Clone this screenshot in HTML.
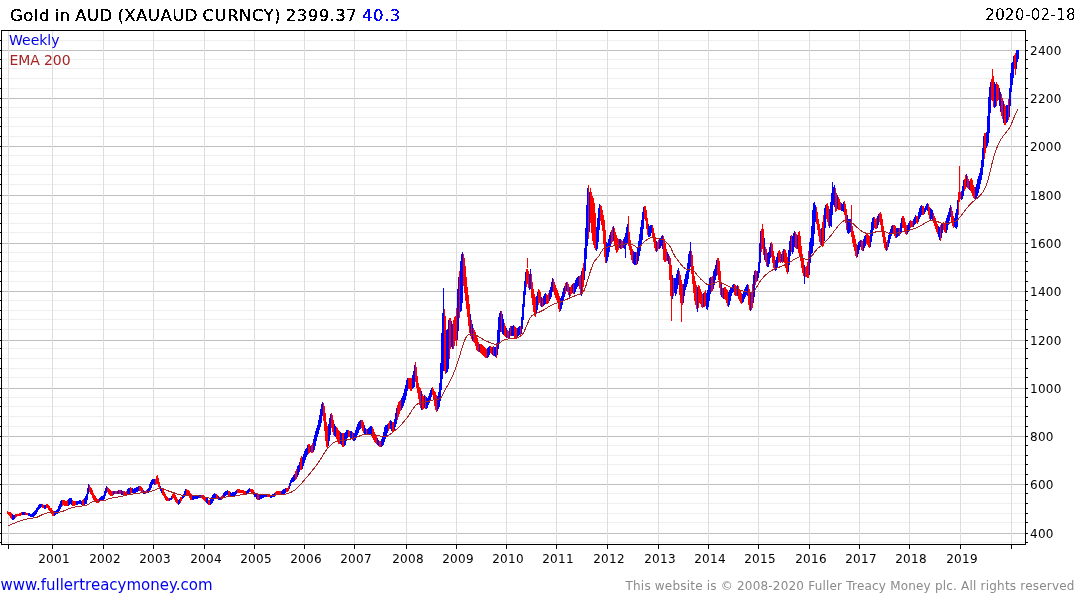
<!DOCTYPE html><html><head><meta charset="utf-8"><title>Gold in AUD</title><style>html,body{margin:0;padding:0;background:#fff;width:1075px;height:600px;overflow:hidden}svg{display:block}text{font-family:"DejaVu Sans","Liberation Sans",sans-serif}</style></head><body>
<svg width="1075" height="600" viewBox="0 0 1075 600">
<g shape-rendering="crispEdges">
<path stroke="#efefef" stroke-width="1" d="M2 542.5H1025M2 522.5H1025M2 513.5H1025M2 503.5H1025M2 493.5H1025M2 474.5H1025M2 464.5H1025M2 455.5H1025M2 445.5H1025M2 426.5H1025M2 416.5H1025M2 406.5H1025M2 397.5H1025M2 377.5H1025M2 368.5H1025M2 358.5H1025M2 348.5H1025M2 329.5H1025M2 319.5H1025M2 310.5H1025M2 300.5H1025M2 281.5H1025M2 271.5H1025M2 261.5H1025M2 252.5H1025M2 232.5H1025M2 223.5H1025M2 213.5H1025M2 203.5H1025M2 184.5H1025M2 174.5H1025M2 165.5H1025M2 155.5H1025M2 136.5H1025M2 126.5H1025M2 117.5H1025M2 107.5H1025M2 88.5H1025M2 78.5H1025M2 68.5H1025M2 59.5H1025M2 40.5H1025"/>
<path stroke="#bebebe" stroke-width="1" d="M2 533.5H1025M2 484.5H1025M2 436.5H1025M2 388.5H1025M2 340.5H1025M2 291.5H1025M2 243.5H1025M2 195.5H1025M2 146.5H1025M2 98.5H1025M2 50.5H1025"/>
<path stroke="#dddddd" stroke-width="1" d="M8.5 31V544M52.5 31V544M103.5 31V544M153.5 31V544M204.5 31V544M254.5 31V544M304.5 31V544M354.5 31V544M406.5 31V544M456.5 31V544M506.5 31V544M556.5 31V544M607.5 31V544M658.5 31V544M708.5 31V544M758.5 31V544M809.5 31V544M859.5 31V544M909.5 31V544M960.5 31V544M1011.5 31V544"/>
<path fill="#ff0000" d="M7 511h1v3h-1zM8 512h1v3h-1zM9 512h1v4h-1zM10 512h1v6h-1zM11 513h1v6h-1zM15 514h1v4h-1zM16 514h1v3h-1zM17 514h1v2h-1zM18 514h1v2h-1zM19 513h1v3h-1zM20 513h1v3h-1zM21 512h1v3h-1zM25 512h1v3h-1zM26 513h1v2h-1zM27 513h1v2h-1zM42 504h1v4h-1zM43 505h1v3h-1zM46 504h1v4h-1zM47 504h1v4h-1zM48 505h1v5h-1zM49 506h1v5h-1zM50 508h1v4h-1zM51 508h1v6h-1zM52 510h1v6h-1zM53 511h1v5h-1zM62 500h1v6h-1zM63 500h1v5h-1zM64 500h1v6h-1zM65 501h1v5h-1zM66 501h1v5h-1zM67 500h1v6h-1zM72 500h1v6h-1zM73 501h1v5h-1zM74 501h1v5h-1zM75 501h1v4h-1zM82 500h1v5h-1zM83 499h1v6h-1zM89 485h1v7h-1zM90 487h1v7h-1zM91 488h1v7h-1zM92 490h1v8h-1zM93 493h1v7h-1zM94 495h1v6h-1zM95 496h1v6h-1zM96 498h1v5h-1zM97 499h1v4h-1zM98 499h1v4h-1zM107 487h1v5h-1zM108 488h1v6h-1zM109 489h1v6h-1zM110 490h1v6h-1zM111 491h1v5h-1zM112 491h1v5h-1zM115 491h1v3h-1zM116 491h1v3h-1zM119 490h1v4h-1zM120 490h1v4h-1zM123 491h1v4h-1zM124 491h1v4h-1zM125 492h1v3h-1zM126 491h1v4h-1zM130 487h1v7h-1zM131 488h1v5h-1zM139 486h1v5h-1zM140 486h1v5h-1zM141 487h1v5h-1zM142 488h1v5h-1zM145 491h1v3h-1zM146 490h1v3h-1zM155 479h1v6h-1zM156 476h1v8h-1zM157 475h1v9h-1zM158 478h1v9h-1zM159 482h1v7h-1zM162 489h1v6h-1zM163 490h1v6h-1zM164 492h1v6h-1zM165 494h1v6h-1zM166 496h1v5h-1zM167 497h1v4h-1zM168 498h1v3h-1zM172 494h1v5h-1zM173 493h1v5h-1zM174 494h1v6h-1zM175 495h1v7h-1zM176 497h1v6h-1zM177 499h1v5h-1zM180 497h1v6h-1zM181 497h1v4h-1zM186 489h1v6h-1zM187 490h1v5h-1zM188 490h1v6h-1zM189 491h1v7h-1zM190 493h1v7h-1zM191 494h1v6h-1zM201 495h1v3h-1zM202 495h1v4h-1zM203 495h1v5h-1zM204 496h1v5h-1zM205 497h1v5h-1zM208 500h1v5h-1zM209 500h1v5h-1zM216 494h1v4h-1zM217 495h1v4h-1zM221 496h1v4h-1zM222 495h1v4h-1zM228 491h1v5h-1zM229 491h1v6h-1zM237 489h1v4h-1zM238 489h1v4h-1zM239 489h1v4h-1zM240 490h1v3h-1zM241 490h1v3h-1zM242 490h1v3h-1zM243 490h1v4h-1zM244 491h1v3h-1zM245 491h1v3h-1zM250 489h1v3h-1zM251 489h1v4h-1zM252 489h1v5h-1zM253 490h1v5h-1zM257 494h1v6h-1zM258 495h1v5h-1zM267 494h1v3h-1zM268 494h1v3h-1zM269 494h1v3h-1zM275 492h1v4h-1zM276 491h1v4h-1zM277 491h1v4h-1zM278 491h1v4h-1zM279 491h1v4h-1zM280 491h1v4h-1zM286 488h1v4h-1zM287 488h1v4h-1zM288 486h1v5h-1zM295 471h1v9h-1zM296 469h1v10h-1zM300 458h1v12h-1zM301 456h1v14h-1zM308 444h1v10h-1zM309 444h1v9h-1zM311 445h1v8h-1zM312 443h1v10h-1zM323 403h1v18h-1zM324 406h1v25h-1zM325 413h1v28h-1zM326 422h1v25h-1zM327 426h1v22h-1zM331 413h1v15h-1zM332 415h1v17h-1zM333 420h1v15h-1zM336 427h1v12h-1zM337 428h1v14h-1zM338 430h1v14h-1zM339 431h1v13h-1zM342 433h1v14h-1zM343 433h1v14h-1zM348 430h1v7h-1zM349 431h1v6h-1zM352 432h1v8h-1zM361 420h1v8h-1zM362 420h1v11h-1zM363 422h1v11h-1zM366 429h1v5h-1zM372 427h1v11h-1zM373 429h1v11h-1zM374 432h1v10h-1zM375 435h1v8h-1zM376 436h1v8h-1zM379 441h1v6h-1zM380 441h1v6h-1zM388 423h1v8h-1zM389 421h1v8h-1zM392 422h1v11h-1zM393 422h1v10h-1zM397 405h1v15h-1zM398 402h1v15h-1zM399 401h1v13h-1zM400 400h1v11h-1zM408 378h1v11h-1zM409 378h1v11h-1zM410 378h1v13h-1zM411 378h1v13h-1zM415 362h1v20h-1zM416 367h1v21h-1zM417 376h1v17h-1zM418 383h1v16h-1zM419 387h1v18h-1zM420 388h1v20h-1zM422 394h1v16h-1zM423 396h1v13h-1zM425 396h1v13h-1zM432 387h1v8h-1zM433 389h1v11h-1zM434 391h1v15h-1zM435 392h1v18h-1zM436 395h1v17h-1zM444 309h1v62h-1zM445 316h1v58h-1zM449 318h1v41h-1zM450 318h1v31h-1zM453 320h1v29h-1zM454 317h1v29h-1zM455 316h1v25h-1zM456 308h1v38h-1zM459 271h1v47h-1zM463 254h1v32h-1zM464 258h1v35h-1zM465 266h1v35h-1zM466 277h1v32h-1zM467 287h1v30h-1zM468 295h1v31h-1zM469 304h1v29h-1zM471 320h1v19h-1zM473 328h1v14h-1zM474 330h1v13h-1zM475 332h1v14h-1zM476 335h1v15h-1zM477 338h1v13h-1zM478 342h1v10h-1zM480 344h1v9h-1zM481 344h1v10h-1zM482 345h1v10h-1zM483 346h1v10h-1zM484 347h1v10h-1zM485 348h1v10h-1zM486 349h1v9h-1zM490 346h1v7h-1zM491 347h1v7h-1zM493 346h1v10h-1zM496 343h1v15h-1zM501 311h1v21h-1zM504 323h1v13h-1zM505 326h1v11h-1zM507 330h1v8h-1zM508 331h1v8h-1zM510 326h1v10h-1zM514 326h1v12h-1zM515 327h1v12h-1zM516 328h1v11h-1zM520 326h1v10h-1zM526 269h1v18h-1zM527 269h1v15h-1zM528 271h1v17h-1zM531 274h1v24h-1zM532 282h1v23h-1zM533 289h1v23h-1zM534 294h1v22h-1zM535 297h1v20h-1zM538 289h1v16h-1zM539 290h1v13h-1zM540 292h1v14h-1zM542 298h1v9h-1zM546 294h1v10h-1zM547 295h1v9h-1zM548 293h1v10h-1zM553 279h1v13h-1zM554 282h1v13h-1zM555 285h1v13h-1zM556 288h1v12h-1zM557 290h1v13h-1zM558 293h1v16h-1zM559 296h1v16h-1zM565 283h1v11h-1zM567 282h1v10h-1zM568 284h1v11h-1zM570 287h1v9h-1zM571 285h1v9h-1zM573 283h1v11h-1zM579 276h1v13h-1zM580 275h1v20h-1zM582 268h1v25h-1zM583 263h1v24h-1zM588 185h1v54h-1zM590 188h1v35h-1zM591 192h1v41h-1zM592 196h1v45h-1zM593 198h1v47h-1zM594 203h1v45h-1zM595 213h1v37h-1zM600 205h1v16h-1zM601 206h1v19h-1zM602 210h1v21h-1zM603 215h1v29h-1zM604 220h1v37h-1zM605 230h1v33h-1zM611 230h1v14h-1zM612 227h1v15h-1zM614 228h1v18h-1zM615 232h1v18h-1zM616 235h1v18h-1zM617 238h1v14h-1zM618 239h1v11h-1zM621 240h1v9h-1zM622 241h1v7h-1zM628 226h1v20h-1zM629 232h1v18h-1zM630 240h1v15h-1zM631 246h1v14h-1zM632 249h1v14h-1zM636 252h1v13h-1zM644 206h1v13h-1zM645 206h1v15h-1zM646 210h1v19h-1zM647 218h1v17h-1zM652 225h1v12h-1zM653 228h1v14h-1zM654 233h1v15h-1zM655 238h1v13h-1zM657 242h1v9h-1zM658 240h1v9h-1zM663 236h1v24h-1zM664 239h1v23h-1zM665 243h1v19h-1zM666 249h1v12h-1zM669 256h1v24h-1zM670 258h1v38h-1zM671 265h1v34h-1zM673 278h1v18h-1zM679 271h1v24h-1zM680 275h1v28h-1zM681 280h1v25h-1zM682 284h1v21h-1zM691 251h1v23h-1zM692 255h1v29h-1zM693 266h1v27h-1zM694 276h1v25h-1zM695 281h1v24h-1zM696 285h1v24h-1zM698 285h1v23h-1zM699 286h1v17h-1zM700 289h1v15h-1zM701 292h1v15h-1zM702 294h1v14h-1zM704 292h1v15h-1zM705 290h1v16h-1zM711 277h1v15h-1zM712 276h1v15h-1zM717 258h1v17h-1zM718 258h1v22h-1zM719 261h1v27h-1zM720 271h1v24h-1zM722 288h1v10h-1zM724 287h1v12h-1zM725 287h1v13h-1zM726 289h1v14h-1zM727 290h1v16h-1zM734 284h1v11h-1zM735 285h1v11h-1zM736 286h1v10h-1zM738 286h1v13h-1zM739 289h1v12h-1zM740 291h1v12h-1zM741 293h1v11h-1zM748 285h1v20h-1zM749 289h1v21h-1zM751 292h1v18h-1zM752 284h1v24h-1zM755 270h1v15h-1zM756 271h1v11h-1zM761 229h1v23h-1zM762 229h1v20h-1zM763 229h1v26h-1zM765 247h1v15h-1zM766 249h1v17h-1zM771 242h1v15h-1zM772 244h1v19h-1zM773 251h1v17h-1zM774 256h1v14h-1zM778 251h1v12h-1zM779 250h1v12h-1zM780 252h1v11h-1zM782 251h1v12h-1zM784 249h1v14h-1zM785 250h1v18h-1zM786 253h1v19h-1zM787 257h1v17h-1zM791 235h1v17h-1zM795 232h1v16h-1zM796 234h1v15h-1zM798 232h1v21h-1zM799 231h1v26h-1zM800 236h1v25h-1zM801 246h1v22h-1zM802 254h1v19h-1zM803 259h1v17h-1zM805 267h1v10h-1zM806 266h1v11h-1zM807 262h1v16h-1zM808 251h1v27h-1zM816 207h1v17h-1zM817 212h1v18h-1zM818 219h1v17h-1zM819 224h1v18h-1zM820 229h1v16h-1zM822 222h1v25h-1zM823 215h1v31h-1zM826 204h1v15h-1zM827 203h1v19h-1zM828 206h1v20h-1zM835 188h1v24h-1zM836 193h1v18h-1zM838 197h1v13h-1zM839 199h1v11h-1zM840 202h1v8h-1zM844 201h1v14h-1zM845 204h1v19h-1zM846 209h1v21h-1zM851 221h1v16h-1zM852 226h1v17h-1zM853 231h1v16h-1zM854 235h1v16h-1zM855 239h1v17h-1zM856 244h1v14h-1zM861 240h1v10h-1zM862 241h1v10h-1zM866 234h1v10h-1zM867 234h1v11h-1zM868 235h1v12h-1zM869 236h1v12h-1zM874 217h1v11h-1zM875 219h1v10h-1zM876 218h1v11h-1zM879 213h1v9h-1zM880 212h1v13h-1zM881 214h1v18h-1zM882 219h1v18h-1zM883 226h1v17h-1zM884 232h1v16h-1zM885 237h1v13h-1zM887 240h1v10h-1zM893 225h1v9h-1zM894 225h1v11h-1zM895 226h1v12h-1zM899 228h1v8h-1zM902 216h1v12h-1zM903 216h1v12h-1zM904 218h1v13h-1zM905 222h1v12h-1zM906 225h1v10h-1zM910 220h1v8h-1zM911 221h1v6h-1zM912 221h1v6h-1zM916 216h1v7h-1zM917 216h1v8h-1zM922 206h1v9h-1zM923 206h1v9h-1zM928 204h1v11h-1zM929 207h1v12h-1zM933 213h1v10h-1zM934 216h1v10h-1zM935 218h1v11h-1zM936 221h1v11h-1zM937 224h1v10h-1zM940 225h1v16h-1zM943 222h1v8h-1zM944 223h1v9h-1zM945 221h1v12h-1zM951 207h1v16h-1zM952 211h1v15h-1zM953 216h1v12h-1zM958 192h1v23h-1zM959 191h1v11h-1zM960 192h1v7h-1zM964 179h1v12h-1zM965 175h1v14h-1zM967 176h1v12h-1zM968 179h1v10h-1zM970 179h1v12h-1zM971 178h1v15h-1zM972 180h1v16h-1zM973 185h1v13h-1zM974 187h1v12h-1zM984 133h1v26h-1zM985 133h1v20h-1zM991 79h1v21h-1zM992 76h1v25h-1zM993 76h1v31h-1zM996 82h1v24h-1zM997 84h1v17h-1zM998 85h1v15h-1zM1001 94h1v22h-1zM1002 98h1v21h-1zM1004 104h1v21h-1zM1005 106h1v19h-1zM1008 99h1v21h-1zM1014 55h1v14h-1zM1015 53h1v22h-1zM527 258h1v10h-1zM628 216h1v10h-1zM671 298h1v23h-1zM681 303h1v19h-1zM762 224h1v5h-1zM851 205h1v17h-1zM959 166h1v25h-1zM992 69h1v7h-1z"/>
<path fill="#0000ff" d="M12 514h1v6h-1zM13 515h1v5h-1zM14 515h1v4h-1zM22 512h1v3h-1zM23 512h1v3h-1zM24 512h1v3h-1zM28 513h1v3h-1zM29 513h1v3h-1zM30 514h1v3h-1zM31 514h1v3h-1zM32 513h1v4h-1zM33 512h1v5h-1zM34 511h1v5h-1zM35 510h1v5h-1zM36 508h1v6h-1zM37 507h1v5h-1zM38 505h1v5h-1zM39 504h1v5h-1zM40 504h1v4h-1zM41 504h1v3h-1zM44 505h1v4h-1zM45 505h1v4h-1zM54 511h1v5h-1zM55 511h1v4h-1zM56 510h1v4h-1zM57 509h1v5h-1zM58 506h1v6h-1zM59 504h1v7h-1zM60 501h1v8h-1zM61 500h1v7h-1zM68 499h1v7h-1zM69 498h1v7h-1zM70 498h1v6h-1zM71 498h1v7h-1zM76 501h1v4h-1zM77 501h1v4h-1zM78 501h1v3h-1zM79 500h1v4h-1zM80 500h1v4h-1zM81 501h1v4h-1zM84 498h1v7h-1zM85 496h1v8h-1zM86 494h1v10h-1zM87 488h1v12h-1zM88 484h1v10h-1zM99 498h1v4h-1zM100 497h1v4h-1zM101 496h1v5h-1zM102 496h1v5h-1zM103 495h1v5h-1zM104 491h1v8h-1zM105 488h1v8h-1zM106 486h1v7h-1zM113 491h1v4h-1zM114 491h1v3h-1zM117 491h1v3h-1zM118 490h1v4h-1zM121 490h1v5h-1zM122 491h1v4h-1zM127 489h1v6h-1zM128 488h1v6h-1zM129 488h1v6h-1zM132 488h1v5h-1zM133 489h1v4h-1zM134 488h1v5h-1zM135 488h1v5h-1zM136 487h1v5h-1zM137 487h1v5h-1zM138 486h1v5h-1zM143 490h1v4h-1zM144 491h1v3h-1zM147 489h1v4h-1zM148 488h1v5h-1zM149 484h1v8h-1zM150 482h1v8h-1zM151 480h1v8h-1zM152 479h1v6h-1zM153 479h1v5h-1zM154 479h1v6h-1zM160 486h1v5h-1zM161 488h1v5h-1zM169 498h1v3h-1zM170 498h1v2h-1zM171 496h1v4h-1zM178 500h1v5h-1zM179 499h1v5h-1zM182 496h1v3h-1zM183 494h1v4h-1zM184 491h1v6h-1zM185 489h1v7h-1zM192 495h1v5h-1zM193 495h1v5h-1zM194 495h1v4h-1zM195 495h1v4h-1zM196 496h1v3h-1zM197 496h1v3h-1zM198 496h1v2h-1zM199 495h1v3h-1zM200 495h1v3h-1zM206 498h1v5h-1zM207 498h1v6h-1zM210 499h1v6h-1zM211 497h1v7h-1zM212 495h1v8h-1zM213 494h1v7h-1zM214 493h1v5h-1zM215 494h1v4h-1zM218 496h1v4h-1zM219 497h1v3h-1zM220 497h1v3h-1zM223 493h1v5h-1zM224 492h1v5h-1zM225 491h1v5h-1zM226 491h1v4h-1zM227 490h1v5h-1zM230 492h1v5h-1zM231 493h1v4h-1zM232 492h1v5h-1zM233 492h1v4h-1zM234 492h1v4h-1zM235 491h1v4h-1zM236 490h1v4h-1zM246 491h1v3h-1zM247 490h1v4h-1zM248 489h1v4h-1zM249 488h1v4h-1zM254 492h1v5h-1zM255 493h1v4h-1zM256 494h1v5h-1zM259 495h1v5h-1zM260 495h1v4h-1zM261 495h1v4h-1zM262 495h1v3h-1zM263 495h1v3h-1zM264 494h1v3h-1zM265 494h1v3h-1zM266 494h1v3h-1zM270 495h1v3h-1zM271 495h1v3h-1zM272 494h1v3h-1zM273 494h1v3h-1zM274 493h1v4h-1zM281 491h1v4h-1zM282 490h1v5h-1zM283 489h1v5h-1zM284 489h1v5h-1zM285 488h1v5h-1zM289 483h1v6h-1zM290 480h1v6h-1zM291 478h1v5h-1zM292 477h1v5h-1zM293 475h1v7h-1zM294 474h1v7h-1zM297 466h1v11h-1zM298 465h1v10h-1zM299 462h1v10h-1zM302 457h1v12h-1zM303 454h1v12h-1zM304 451h1v12h-1zM305 449h1v11h-1zM306 448h1v9h-1zM307 445h1v10h-1zM310 446h1v6h-1zM313 439h1v13h-1zM314 435h1v15h-1zM315 431h1v15h-1zM316 428h1v13h-1zM317 425h1v12h-1zM318 420h1v14h-1zM319 415h1v15h-1zM320 409h1v18h-1zM321 404h1v19h-1zM322 402h1v14h-1zM328 424h1v22h-1zM329 418h1v23h-1zM330 414h1v21h-1zM334 424h1v12h-1zM335 426h1v11h-1zM340 432h1v12h-1zM341 433h1v12h-1zM344 433h1v13h-1zM345 432h1v13h-1zM346 430h1v11h-1zM347 430h1v8h-1zM350 431h1v7h-1zM351 431h1v8h-1zM353 433h1v8h-1zM354 433h1v8h-1zM355 430h1v10h-1zM356 427h1v11h-1zM357 424h1v11h-1zM358 422h1v11h-1zM359 421h1v9h-1zM360 420h1v9h-1zM364 425h1v9h-1zM365 428h1v6h-1zM367 429h1v5h-1zM368 428h1v6h-1zM369 427h1v7h-1zM370 426h1v9h-1zM371 426h1v10h-1zM377 438h1v7h-1zM378 440h1v6h-1zM381 439h1v8h-1zM382 436h1v10h-1zM383 432h1v13h-1zM384 427h1v15h-1zM385 425h1v14h-1zM386 425h1v11h-1zM387 424h1v9h-1zM390 420h1v9h-1zM391 421h1v10h-1zM394 419h1v11h-1zM395 413h1v14h-1zM396 408h1v16h-1zM401 398h1v12h-1zM402 396h1v12h-1zM403 393h1v13h-1zM404 389h1v14h-1zM405 385h1v15h-1zM406 380h1v16h-1zM407 378h1v13h-1zM412 375h1v14h-1zM413 371h1v17h-1zM414 365h1v22h-1zM421 391h1v19h-1zM424 395h1v13h-1zM426 397h1v12h-1zM427 398h1v10h-1zM428 396h1v9h-1zM429 393h1v10h-1zM430 390h1v10h-1zM431 388h1v9h-1zM437 396h1v15h-1zM438 392h1v17h-1zM439 383h1v24h-1zM440 363h1v38h-1zM441 333h1v57h-1zM442 313h1v66h-1zM443 309h1v62h-1zM446 330h1v43h-1zM447 329h1v43h-1zM448 320h1v49h-1zM451 321h1v26h-1zM452 324h1v25h-1zM457 289h1v51h-1zM458 277h1v54h-1zM460 261h1v51h-1zM461 254h1v57h-1zM462 252h1v51h-1zM470 314h1v22h-1zM472 324h1v17h-1zM479 344h1v8h-1zM487 348h1v10h-1zM488 347h1v10h-1zM489 346h1v9h-1zM492 347h1v8h-1zM494 347h1v9h-1zM495 347h1v10h-1zM497 330h1v25h-1zM498 317h1v32h-1zM499 313h1v29h-1zM500 311h1v21h-1zM502 314h1v20h-1zM503 319h1v16h-1zM506 328h1v10h-1zM509 328h1v10h-1zM511 326h1v10h-1zM512 326h1v10h-1zM513 325h1v11h-1zM517 328h1v10h-1zM518 327h1v9h-1zM519 326h1v9h-1zM521 317h1v17h-1zM522 304h1v25h-1zM523 291h1v29h-1zM524 281h1v26h-1zM525 272h1v23h-1zM529 274h1v16h-1zM530 269h1v20h-1zM536 296h1v18h-1zM537 292h1v18h-1zM541 297h1v10h-1zM543 296h1v10h-1zM544 294h1v11h-1zM545 293h1v11h-1zM549 290h1v11h-1zM550 287h1v12h-1zM551 282h1v15h-1zM552 278h1v14h-1zM560 298h1v13h-1zM561 296h1v13h-1zM562 292h1v13h-1zM563 288h1v13h-1zM564 286h1v11h-1zM566 282h1v9h-1zM569 287h1v11h-1zM572 284h1v9h-1zM574 283h1v11h-1zM575 280h1v12h-1zM576 278h1v11h-1zM577 277h1v10h-1zM578 276h1v10h-1zM581 271h1v25h-1zM584 248h1v32h-1zM585 228h1v43h-1zM586 205h1v54h-1zM587 188h1v58h-1zM589 192h1v40h-1zM596 227h1v24h-1zM597 218h1v31h-1zM598 208h1v34h-1zM599 204h1v26h-1zM606 242h1v21h-1zM607 243h1v18h-1zM608 239h1v18h-1zM609 235h1v17h-1zM610 232h1v14h-1zM613 226h1v15h-1zM619 239h1v9h-1zM620 239h1v10h-1zM623 239h1v9h-1zM624 237h1v12h-1zM625 233h1v14h-1zM626 227h1v18h-1zM627 224h1v19h-1zM633 251h1v13h-1zM634 252h1v13h-1zM635 252h1v13h-1zM637 247h1v17h-1zM638 241h1v20h-1zM639 234h1v22h-1zM640 227h1v24h-1zM641 220h1v26h-1zM642 212h1v28h-1zM643 207h1v22h-1zM648 224h1v13h-1zM649 226h1v11h-1zM650 225h1v11h-1zM651 225h1v8h-1zM656 241h1v11h-1zM659 239h1v10h-1zM660 238h1v10h-1zM661 236h1v10h-1zM662 235h1v14h-1zM667 252h1v9h-1zM668 254h1v10h-1zM672 275h1v24h-1zM674 278h1v15h-1zM675 278h1v18h-1zM676 274h1v20h-1zM677 270h1v19h-1zM678 268h1v17h-1zM683 284h1v19h-1zM684 279h1v17h-1zM685 274h1v16h-1zM686 271h1v16h-1zM687 263h1v21h-1zM688 254h1v25h-1zM689 251h1v21h-1zM690 250h1v17h-1zM697 287h1v25h-1zM703 293h1v14h-1zM706 293h1v16h-1zM707 290h1v20h-1zM708 284h1v23h-1zM709 278h1v23h-1zM710 277h1v17h-1zM713 271h1v18h-1zM714 269h1v16h-1zM715 265h1v15h-1zM716 260h1v16h-1zM721 283h1v14h-1zM723 288h1v11h-1zM728 292h1v15h-1zM729 290h1v15h-1zM730 288h1v13h-1zM731 287h1v9h-1zM732 285h1v8h-1zM733 284h1v8h-1zM737 285h1v11h-1zM742 294h1v9h-1zM743 292h1v10h-1zM744 289h1v10h-1zM745 287h1v10h-1zM746 285h1v10h-1zM747 284h1v12h-1zM750 293h1v18h-1zM753 275h1v28h-1zM754 271h1v26h-1zM757 271h1v10h-1zM758 262h1v16h-1zM759 243h1v30h-1zM760 231h1v32h-1zM764 238h1v22h-1zM767 253h1v14h-1zM768 252h1v15h-1zM769 247h1v17h-1zM770 243h1v15h-1zM775 260h1v11h-1zM776 257h1v13h-1zM777 253h1v14h-1zM781 254h1v8h-1zM783 249h1v13h-1zM788 250h1v22h-1zM789 241h1v24h-1zM790 236h1v20h-1zM792 236h1v18h-1zM793 233h1v19h-1zM794 231h1v16h-1zM797 235h1v14h-1zM804 265h1v12h-1zM809 242h1v33h-1zM810 238h1v25h-1zM811 226h1v28h-1zM812 210h1v43h-1zM813 203h1v43h-1zM814 202h1v32h-1zM815 205h1v17h-1zM821 228h1v18h-1zM824 208h1v33h-1zM825 205h1v23h-1zM829 209h1v19h-1zM830 202h1v24h-1zM831 193h1v34h-1zM832 189h1v26h-1zM833 187h1v18h-1zM834 185h1v22h-1zM837 195h1v14h-1zM841 203h1v8h-1zM842 204h1v7h-1zM843 202h1v10h-1zM847 215h1v18h-1zM848 219h1v15h-1zM849 219h1v14h-1zM850 219h1v13h-1zM857 245h1v12h-1zM858 242h1v12h-1zM859 241h1v9h-1zM860 240h1v7h-1zM863 239h1v12h-1zM864 236h1v12h-1zM865 235h1v11h-1zM870 230h1v17h-1zM871 222h1v20h-1zM872 218h1v18h-1zM873 217h1v13h-1zM877 216h1v12h-1zM878 214h1v11h-1zM886 242h1v9h-1zM888 235h1v12h-1zM889 232h1v11h-1zM890 229h1v10h-1zM891 226h1v10h-1zM892 225h1v9h-1zM896 228h1v10h-1zM897 228h1v9h-1zM898 228h1v8h-1zM900 223h1v11h-1zM901 218h1v14h-1zM907 225h1v9h-1zM908 223h1v9h-1zM909 221h1v9h-1zM913 219h1v8h-1zM914 217h1v8h-1zM915 215h1v9h-1zM918 212h1v10h-1zM919 208h1v11h-1zM920 206h1v11h-1zM921 205h1v10h-1zM924 208h1v6h-1zM925 206h1v6h-1zM926 204h1v6h-1zM927 203h1v8h-1zM930 208h1v12h-1zM931 209h1v10h-1zM932 210h1v10h-1zM938 226h1v11h-1zM939 227h1v13h-1zM941 224h1v14h-1zM942 223h1v10h-1zM946 218h1v15h-1zM947 215h1v15h-1zM948 212h1v13h-1zM949 208h1v13h-1zM950 205h1v12h-1zM954 218h1v9h-1zM955 213h1v15h-1zM956 209h1v20h-1zM957 200h1v27h-1zM961 191h1v9h-1zM962 186h1v13h-1zM963 180h1v16h-1zM966 174h1v13h-1zM969 181h1v9h-1zM975 187h1v12h-1zM976 184h1v14h-1zM977 179h1v17h-1zM978 176h1v17h-1zM979 173h1v16h-1zM980 168h1v16h-1zM981 160h1v20h-1zM982 148h1v27h-1zM983 136h1v31h-1zM986 132h1v16h-1zM987 116h1v30h-1zM988 97h1v46h-1zM989 87h1v46h-1zM990 82h1v31h-1zM994 82h1v26h-1zM995 84h1v23h-1zM999 88h1v18h-1zM1000 92h1v20h-1zM1003 101h1v22h-1zM1006 105h1v18h-1zM1007 105h1v17h-1zM1009 88h1v29h-1zM1010 73h1v33h-1zM1011 63h1v29h-1zM1012 62h1v23h-1zM1013 56h1v22h-1zM1016 50h1v19h-1zM1017 50h1v12h-1zM1018 50h1v9h-1zM443 288h1v21h-1zM625 246h1v12h-1zM690 242h1v8h-1zM804 276h1v8h-1zM832 182h1v8h-1z"/>
</g>
<polyline fill="none" stroke="#a82424" stroke-width="1" shape-rendering="crispEdges" points="8.2,525.6 9.2,525.2 10.2,524.8 11.2,524.4 12.2,524.0 13.2,523.6 14.2,523.2 15.2,522.8 16.2,522.4 17.2,522.0 18.2,521.6 19.2,521.3 20.2,520.9 21.2,520.6 22.2,520.3 23.2,520.0 24.2,519.7 25.2,519.4 26.2,519.2 27.2,519.0 28.2,518.8 29.2,518.6 30.2,518.4 31.2,518.3 32.2,518.1 33.2,517.9 34.2,517.8 35.2,517.6 36.2,517.4 37.2,517.1 38.2,516.7 39.2,516.2 40.2,515.7 41.2,515.1 42.2,514.6 43.2,514.2 44.2,513.9 45.2,513.6 46.2,513.3 47.2,513.0 48.2,512.8 49.2,512.6 50.2,512.5 51.2,512.5 52.2,512.5 53.2,512.5 54.2,512.5 55.2,512.5 56.2,512.5 57.2,512.4 58.2,512.3 59.2,512.2 60.2,512.0 61.2,511.8 62.2,511.5 63.2,511.1 64.2,510.7 65.2,510.2 66.2,509.8 67.2,509.4 68.2,509.0 69.2,508.7 70.2,508.3 71.2,508.0 72.2,507.7 73.2,507.4 74.2,507.2 75.2,507.0 76.2,506.8 77.2,506.7 78.2,506.5 79.2,506.4 80.2,506.2 81.2,506.1 82.2,506.0 83.2,505.9 84.2,505.7 85.2,505.6 86.2,505.4 87.2,505.0 88.2,504.4 89.2,503.8 90.2,503.1 91.2,502.5 92.2,502.0 93.2,501.6 94.2,501.3 95.2,501.2 96.2,501.1 97.2,501.1 98.2,501.1 99.2,501.1 100.2,501.0 101.2,500.9 102.2,500.7 103.2,500.6 104.2,500.4 105.2,500.2 106.2,499.8 107.2,499.4 108.2,499.0 109.2,498.7 110.2,498.4 111.2,498.2 112.2,498.0 113.2,497.9 114.2,497.7 115.2,497.5 116.2,497.3 117.2,497.2 118.2,497.0 119.2,496.8 120.2,496.6 121.2,496.3 122.2,496.1 123.2,495.9 124.2,495.7 125.2,495.4 126.2,495.2 127.2,495.0 128.2,494.9 129.2,494.7 130.2,494.5 131.2,494.3 132.2,494.2 133.2,494.0 134.2,493.8 135.2,493.7 136.2,493.5 137.2,493.4 138.2,493.2 139.2,493.1 140.2,492.9 141.2,492.8 142.2,492.7 143.2,492.6 144.2,492.5 145.2,492.3 146.2,492.2 147.2,492.1 148.2,492.0 149.2,491.9 150.2,491.6 151.2,491.4 152.2,491.0 153.2,490.6 154.2,490.2 155.2,489.8 156.2,489.3 157.2,488.9 158.2,488.6 159.2,488.3 160.2,488.2 161.2,488.3 162.2,488.5 163.2,488.9 164.2,489.3 165.2,489.8 166.2,490.2 167.2,490.6 168.2,490.9 169.2,491.3 170.2,491.6 171.2,491.9 172.2,492.2 173.2,492.5 174.2,492.9 175.2,493.3 176.2,493.7 177.2,494.0 178.2,494.4 179.2,494.7 180.2,494.9 181.2,495.0 182.2,495.1 183.2,495.1 184.2,495.1 185.2,495.1 186.2,495.2 187.2,495.2 188.2,495.2 189.2,495.3 190.2,495.3 191.2,495.4 192.2,495.4 193.2,495.4 194.2,495.5 195.2,495.6 196.2,495.6 197.2,495.7 198.2,495.9 199.2,496.0 200.2,496.1 201.2,496.3 202.2,496.4 203.2,496.6 204.2,496.8 205.2,497.0 206.2,497.3 207.2,497.6 208.2,497.9 209.2,498.1 210.2,498.3 211.2,498.4 212.2,498.4 213.2,498.4 214.2,498.3 215.2,498.3 216.2,498.2 217.2,498.2 218.2,498.1 219.2,498.0 220.2,497.8 221.2,497.7 222.2,497.5 223.2,497.4 224.2,497.2 225.2,497.1 226.2,496.9 227.2,496.8 228.2,496.7 229.2,496.6 230.2,496.5 231.2,496.4 232.2,496.3 233.2,496.2 234.2,496.1 235.2,496.0 236.2,495.8 237.2,495.6 238.2,495.4 239.2,495.2 240.2,495.0 241.2,494.8 242.2,494.6 243.2,494.4 244.2,494.3 245.2,494.2 246.2,494.1 247.2,494.0 248.2,493.9 249.2,493.8 250.2,493.7 251.2,493.6 252.2,493.6 253.2,493.6 254.2,493.7 255.2,493.7 256.2,493.8 257.2,493.9 258.2,494.0 259.2,494.1 260.2,494.2 261.2,494.3 262.2,494.4 263.2,494.5 264.2,494.6 265.2,494.7 266.2,494.8 267.2,494.8 268.2,494.9 269.2,494.9 270.2,495.0 271.2,495.0 272.2,495.0 273.2,495.0 274.2,495.0 275.2,495.0 276.2,494.9 277.2,494.9 278.2,494.9 279.2,494.8 280.2,494.7 281.2,494.7 282.2,494.6 283.2,494.5 284.2,494.4 285.2,494.2 286.2,494.0 287.2,493.8 288.2,493.5 289.2,493.1 290.2,492.6 291.2,492.1 292.2,491.6 293.2,491.0 294.2,490.4 295.2,489.7 296.2,488.9 297.2,488.0 298.2,486.9 299.2,485.9 300.2,484.7 301.2,483.6 302.2,482.5 303.2,481.4 304.2,480.2 305.2,479.1 306.2,478.0 307.2,476.8 308.2,475.6 309.2,474.3 310.2,473.1 311.2,471.9 312.2,470.6 313.2,469.3 314.2,468.1 315.2,466.8 316.2,465.5 317.2,464.2 318.2,462.8 319.2,461.3 320.2,459.8 321.2,458.2 322.2,456.6 323.2,454.9 324.2,453.3 325.2,451.7 326.2,450.3 327.2,449.0 328.2,447.8 329.2,446.7 330.2,445.7 331.2,444.7 332.2,443.8 333.2,443.0 334.2,442.3 335.2,441.8 336.2,441.4 337.2,441.1 338.2,440.9 339.2,440.6 340.2,440.4 341.2,440.3 342.2,440.2 343.2,440.1 344.2,440.1 345.2,440.0 346.2,439.9 347.2,439.8 348.2,439.6 349.2,439.4 350.2,439.1 351.2,438.8 352.2,438.5 353.2,438.3 354.2,438.0 355.2,437.7 356.2,437.3 357.2,436.9 358.2,436.5 359.2,436.1 360.2,435.7 361.2,435.3 362.2,435.0 363.2,434.7 364.2,434.5 365.2,434.3 366.2,434.2 367.2,434.1 368.2,434.0 369.2,434.0 370.2,434.0 371.2,434.1 372.2,434.3 373.2,434.5 374.2,434.7 375.2,434.9 376.2,435.1 377.2,435.3 378.2,435.6 379.2,435.8 380.2,436.1 381.2,436.4 382.2,436.7 383.2,436.9 384.2,437.0 385.2,436.9 386.2,436.7 387.2,436.2 388.2,435.6 389.2,434.9 390.2,434.2 391.2,433.5 392.2,432.7 393.2,431.9 394.2,431.1 395.2,430.3 396.2,429.5 397.2,428.7 398.2,427.9 399.2,426.9 400.2,425.9 401.2,424.8 402.2,423.6 403.2,422.4 404.2,421.2 405.2,420.0 406.2,418.8 407.2,417.5 408.2,416.1 409.2,414.7 410.2,413.1 411.2,411.5 412.2,409.8 413.2,408.4 414.2,407.1 415.2,406.0 416.2,405.0 417.2,404.2 418.2,403.5 419.2,402.9 420.2,402.6 421.2,402.3 422.2,402.3 423.2,402.3 424.2,402.3 425.2,402.2 426.2,402.0 427.2,401.8 428.2,401.4 429.2,401.1 430.2,400.7 431.2,400.4 432.2,400.2 433.2,400.0 434.2,399.8 435.2,399.7 436.2,399.6 437.2,399.5 438.2,399.4 439.2,399.1 440.2,398.4 441.2,397.2 442.2,395.6 443.2,393.6 444.2,391.6 445.2,389.7 446.2,388.0 447.2,386.2 448.2,384.3 449.2,382.4 450.2,380.5 451.2,378.5 452.2,376.5 453.2,374.3 454.2,371.9 455.2,369.4 456.2,366.6 457.2,363.6 458.2,360.5 459.2,357.3 460.2,354.0 461.2,350.7 462.2,347.5 463.2,344.3 464.2,341.5 465.2,339.1 466.2,337.2 467.2,335.8 468.2,335.0 469.2,334.6 470.2,334.3 471.2,334.3 472.2,334.3 473.2,334.4 474.2,334.6 475.2,334.9 476.2,335.4 477.2,335.9 478.2,336.5 479.2,337.1 480.2,337.7 481.2,338.3 482.2,338.9 483.2,339.5 484.2,340.0 485.2,340.5 486.2,341.0 487.2,341.5 488.2,341.9 489.2,342.4 490.2,342.8 491.2,343.2 492.2,343.5 493.2,343.9 494.2,344.2 495.2,344.4 496.2,344.5 497.2,344.3 498.2,343.9 499.2,343.3 500.2,342.5 501.2,341.7 502.2,341.0 503.2,340.5 504.2,340.0 505.2,339.7 506.2,339.4 507.2,339.2 508.2,338.9 509.2,338.7 510.2,338.6 511.2,338.4 512.2,338.3 513.2,338.2 514.2,338.1 515.2,338.0 516.2,337.8 517.2,337.6 518.2,337.3 519.2,336.9 520.2,336.5 521.2,335.8 522.2,334.7 523.2,333.2 524.2,331.3 525.2,329.1 526.2,326.8 527.2,324.5 528.2,322.1 529.2,319.9 530.2,318.0 531.2,316.5 532.2,315.4 533.2,314.7 534.2,314.2 535.2,313.7 536.2,313.3 537.2,312.8 538.2,312.4 539.2,312.1 540.2,311.7 541.2,311.2 542.2,310.7 543.2,310.2 544.2,309.6 545.2,309.0 546.2,308.3 547.2,307.7 548.2,307.1 549.2,306.5 550.2,305.9 551.2,305.3 552.2,304.7 553.2,304.2 554.2,303.8 555.2,303.5 556.2,303.2 557.2,303.0 558.2,302.7 559.2,302.4 560.2,302.1 561.2,301.7 562.2,301.3 563.2,300.9 564.2,300.5 565.2,300.1 566.2,299.6 567.2,299.1 568.2,298.6 569.2,298.1 570.2,297.7 571.2,297.2 572.2,296.8 573.2,296.5 574.2,296.1 575.2,295.7 576.2,295.3 577.2,295.0 578.2,294.6 579.2,294.3 580.2,294.0 581.2,293.6 582.2,293.2 583.2,292.1 584.2,290.2 585.2,287.8 586.2,284.9 587.2,281.5 588.2,278.1 589.2,275.0 590.2,271.9 591.2,268.9 592.2,266.2 593.2,263.7 594.2,261.7 595.2,260.3 596.2,259.1 597.2,258.0 598.2,256.9 599.2,255.5 600.2,253.8 601.2,252.0 602.2,250.4 603.2,249.0 604.2,248.1 605.2,247.5 606.2,247.2 607.2,247.1 608.2,247.0 609.2,246.8 610.2,246.7 611.2,246.5 612.2,246.3 613.2,246.0 614.2,245.8 615.2,245.6 616.2,245.5 617.2,245.3 618.2,245.2 619.2,245.1 620.2,245.0 621.2,244.8 622.2,244.7 623.2,244.5 624.2,244.2 625.2,243.9 626.2,243.6 627.2,243.4 628.2,243.4 629.2,243.5 630.2,243.7 631.2,244.1 632.2,244.6 633.2,245.1 634.2,245.7 635.2,246.3 636.2,247.0 637.2,247.4 638.2,247.4 639.2,247.1 640.2,246.4 641.2,245.2 642.2,244.1 643.2,243.1 644.2,242.0 645.2,241.0 646.2,240.2 647.2,239.4 648.2,238.8 649.2,238.3 650.2,238.0 651.2,237.7 652.2,237.6 653.2,237.7 654.2,237.8 655.2,237.9 656.2,238.1 657.2,238.3 658.2,238.5 659.2,238.7 660.2,239.0 661.2,239.3 662.2,239.7 663.2,240.2 664.2,240.8 665.2,241.5 666.2,242.3 667.2,243.1 668.2,244.0 669.2,245.3 670.2,246.8 671.2,248.7 672.2,250.9 673.2,253.0 674.2,255.0 675.2,256.7 676.2,258.2 677.2,259.6 678.2,260.9 679.2,262.2 680.2,263.5 681.2,264.6 682.2,265.8 683.2,266.9 684.2,267.8 685.2,268.5 686.2,269.1 687.2,269.3 688.2,269.2 689.2,269.1 690.2,269.1 691.2,269.2 692.2,269.6 693.2,270.4 694.2,271.4 695.2,272.5 696.2,273.8 697.2,275.0 698.2,276.2 699.2,277.4 700.2,278.5 701.2,279.5 702.2,280.5 703.2,281.5 704.2,282.3 705.2,283.1 706.2,283.8 707.2,284.3 708.2,284.7 709.2,284.8 710.2,284.8 711.2,284.6 712.2,284.2 713.2,283.8 714.2,283.3 715.2,282.7 716.2,282.2 717.2,281.9 718.2,281.8 719.2,282.0 720.2,282.4 721.2,282.9 722.2,283.3 723.2,283.8 724.2,284.3 725.2,284.8 726.2,285.3 727.2,285.8 728.2,286.2 729.2,286.6 730.2,287.0 731.2,287.4 732.2,287.7 733.2,288.0 734.2,288.3 735.2,288.6 736.2,288.9 737.2,289.2 738.2,289.4 739.2,289.8 740.2,290.1 741.2,290.4 742.2,290.8 743.2,291.2 744.2,291.4 745.2,291.7 746.2,291.9 747.2,292.0 748.2,292.1 749.2,292.1 750.2,292.1 751.2,292.1 752.2,291.9 753.2,291.5 754.2,290.7 755.2,289.5 756.2,287.9 757.2,286.1 758.2,284.3 759.2,282.7 760.2,281.2 761.2,279.9 762.2,278.6 763.2,277.5 764.2,276.4 765.2,275.4 766.2,274.5 767.2,273.7 768.2,272.9 769.2,272.1 770.2,271.4 771.2,270.7 772.2,270.1 773.2,269.6 774.2,269.2 775.2,268.8 776.2,268.4 777.2,267.9 778.2,267.5 779.2,267.1 780.2,266.7 781.2,266.3 782.2,265.9 783.2,265.5 784.2,265.1 785.2,264.7 786.2,264.2 787.2,263.6 788.2,263.1 789.2,262.5 790.2,261.9 791.2,261.3 792.2,260.7 793.2,260.1 794.2,259.5 795.2,258.9 796.2,258.3 797.2,257.7 798.2,257.2 799.2,256.9 800.2,256.9 801.2,257.2 802.2,257.7 803.2,258.2 804.2,258.8 805.2,259.2 806.2,259.6 807.2,259.7 808.2,259.5 809.2,258.9 810.2,258.0 811.2,256.7 812.2,255.4 813.2,254.1 814.2,252.7 815.2,251.3 816.2,250.1 817.2,249.0 818.2,248.1 819.2,247.3 820.2,246.6 821.2,245.8 822.2,244.9 823.2,244.0 824.2,243.0 825.2,242.0 826.2,240.9 827.2,239.8 828.2,238.7 829.2,237.5 830.2,236.3 831.2,235.1 832.2,233.8 833.2,232.4 834.2,231.0 835.2,229.7 836.2,228.5 837.2,227.2 838.2,226.1 839.2,225.0 840.2,223.9 841.2,222.9 842.2,221.9 843.2,221.1 844.2,220.6 845.2,220.3 846.2,220.3 847.2,220.6 848.2,221.0 849.2,221.5 850.2,222.0 851.2,222.5 852.2,223.1 853.2,223.9 854.2,224.7 855.2,225.6 856.2,226.6 857.2,227.5 858.2,228.4 859.2,229.3 860.2,230.1 861.2,230.8 862.2,231.4 863.2,232.0 864.2,232.5 865.2,232.9 866.2,233.3 867.2,233.5 868.2,233.6 869.2,233.5 870.2,233.4 871.2,233.2 872.2,233.0 873.2,232.8 874.2,232.5 875.2,232.1 876.2,231.8 877.2,231.4 878.2,231.2 879.2,231.1 880.2,231.0 881.2,231.0 882.2,231.0 883.2,231.2 884.2,231.4 885.2,231.7 886.2,232.1 887.2,232.6 888.2,233.0 889.2,233.4 890.2,233.6 891.2,233.6 892.2,233.6 893.2,233.5 894.2,233.4 895.2,233.3 896.2,233.2 897.2,233.0 898.2,232.8 899.2,232.6 900.2,232.4 901.2,232.2 902.2,232.0 903.2,231.7 904.2,231.5 905.2,231.2 906.2,231.0 907.2,230.7 908.2,230.5 909.2,230.2 910.2,229.9 911.2,229.6 912.2,229.3 913.2,229.0 914.2,228.6 915.2,228.2 916.2,227.8 917.2,227.4 918.2,227.0 919.2,226.5 920.2,226.0 921.2,225.4 922.2,224.8 923.2,224.2 924.2,223.6 925.2,223.0 926.2,222.5 927.2,222.0 928.2,221.4 929.2,221.0 930.2,220.7 931.2,220.5 932.2,220.4 933.2,220.5 934.2,220.6 935.2,220.8 936.2,221.1 937.2,221.5 938.2,221.9 939.2,222.3 940.2,222.7 941.2,223.0 942.2,223.3 943.2,223.4 944.2,223.6 945.2,223.6 946.2,223.6 947.2,223.5 948.2,223.3 949.2,223.1 950.2,222.8 951.2,222.6 952.2,222.4 953.2,222.2 954.2,221.9 955.2,221.5 956.2,221.0 957.2,220.2 958.2,219.2 959.2,218.0 960.2,216.8 961.2,215.5 962.2,214.2 963.2,212.9 964.2,211.5 965.2,210.2 966.2,208.9 967.2,207.7 968.2,206.5 969.2,205.4 970.2,204.3 971.2,203.2 972.2,202.3 973.2,201.4 974.2,200.7 975.2,199.9 976.2,199.1 977.2,198.3 978.2,197.4 979.2,196.5 980.2,195.4 981.2,194.2 982.2,192.9 983.2,191.4 984.2,189.7 985.2,187.7 986.2,185.3 987.2,182.5 988.2,179.0 989.2,175.0 990.2,170.9 991.2,166.8 992.2,162.8 993.2,159.1 994.2,155.7 995.2,152.5 996.2,149.6 997.2,147.0 998.2,144.6 999.2,142.5 1000.2,140.6 1001.2,138.9 1002.2,137.4 1003.2,136.0 1004.2,134.7 1005.2,133.5 1006.2,132.2 1007.2,130.9 1008.2,129.6 1009.2,128.2 1010.2,126.4 1011.2,124.4 1012.2,122.1 1013.2,119.6 1014.2,117.0 1015.2,114.7 1016.2,112.4 1017.2,110.4 1018.2,109.4"/>
<g shape-rendering="crispEdges" stroke="#000" stroke-width="1" fill="none">
<rect x="1.5" y="30.5" width="1024" height="514"/>
<path d="M0 542.5H1M0 522.5H1M0 513.5H1M0 503.5H1M0 493.5H1M0 474.5H1M0 464.5H1M0 455.5H1M0 445.5H1M0 426.5H1M0 416.5H1M0 406.5H1M0 397.5H1M0 377.5H1M0 368.5H1M0 358.5H1M0 348.5H1M0 329.5H1M0 319.5H1M0 310.5H1M0 300.5H1M0 281.5H1M0 271.5H1M0 261.5H1M0 252.5H1M0 232.5H1M0 223.5H1M0 213.5H1M0 203.5H1M0 184.5H1M0 174.5H1M0 165.5H1M0 155.5H1M0 136.5H1M0 126.5H1M0 117.5H1M0 107.5H1M0 88.5H1M0 78.5H1M0 68.5H1M0 59.5H1M0 40.5H1M0 533.5H1M0 484.5H1M0 436.5H1M0 388.5H1M0 340.5H1M0 291.5H1M0 243.5H1M0 195.5H1M0 146.5H1M0 98.5H1M0 50.5H1M1026 542.5H1028M1026 522.5H1028M1026 513.5H1028M1026 503.5H1028M1026 493.5H1028M1026 474.5H1028M1026 464.5H1028M1026 455.5H1028M1026 445.5H1028M1026 426.5H1028M1026 416.5H1028M1026 406.5H1028M1026 397.5H1028M1026 377.5H1028M1026 368.5H1028M1026 358.5H1028M1026 348.5H1028M1026 329.5H1028M1026 319.5H1028M1026 310.5H1028M1026 300.5H1028M1026 281.5H1028M1026 271.5H1028M1026 261.5H1028M1026 252.5H1028M1026 232.5H1028M1026 223.5H1028M1026 213.5H1028M1026 203.5H1028M1026 184.5H1028M1026 174.5H1028M1026 165.5H1028M1026 155.5H1028M1026 136.5H1028M1026 126.5H1028M1026 117.5H1028M1026 107.5H1028M1026 88.5H1028M1026 78.5H1028M1026 68.5H1028M1026 59.5H1028M1026 40.5H1028M1026 533.5H1028M1026 484.5H1028M1026 436.5H1028M1026 388.5H1028M1026 340.5H1028M1026 291.5H1028M1026 243.5H1028M1026 195.5H1028M1026 146.5H1028M1026 98.5H1028M1026 50.5H1028M8.5 545V549M52.5 545V549M103.5 545V549M153.5 545V549M204.5 545V549M254.5 545V549M304.5 545V549M354.5 545V549M406.5 545V549M456.5 545V549M506.5 545V549M556.5 545V549M607.5 545V549M658.5 545V549M708.5 545V549M758.5 545V549M809.5 545V549M859.5 545V549M909.5 545V549M960.5 545V549M1011.5 545V549"/>
</g>
<defs><filter id="alH" x="0" y="0" width="1" height="1" color-interpolation-filters="sRGB"><feComponentTransfer><feFuncA type="discrete" tableValues="0 1 1"/></feComponentTransfer></filter><filter id="alT" x="0" y="0" width="1" height="1" color-interpolation-filters="sRGB"><feComponentTransfer><feFuncA type="discrete" tableValues="0 1"/></feComponentTransfer></filter></defs><g filter="url(#alH)">
<text x="10" y="21" font-size="16.5" letter-spacing="0.47" word-spacing="-1" fill="#000">Gold in AUD (XAUAUD CURNCY) 2399.37 <tspan fill="#0000ff">40.3</tspan></text>
</g><g filter="url(#alT)">
<text x="1076" y="20" font-size="15" letter-spacing="0.35" text-anchor="end" fill="#000">2020-02-18</text>
</g><g>
<text x="9" y="45" font-size="14" fill="#0000e6">Weekly</text>
<text x="9.5" y="65" font-size="14" letter-spacing="-0.1" fill="#a82424">EMA 200</text>
<text x="1030" y="538" font-size="12" letter-spacing="0.3" fill="#000">400</text>
<text x="1030" y="489" font-size="12" letter-spacing="0.3" fill="#000">600</text>
<text x="1030" y="441" font-size="12" letter-spacing="0.3" fill="#000">800</text>
<text x="1030" y="393" font-size="12" letter-spacing="0.3" fill="#000">1000</text>
<text x="1030" y="345" font-size="12" letter-spacing="0.3" fill="#000">1200</text>
<text x="1030" y="296" font-size="12" letter-spacing="0.3" fill="#000">1400</text>
<text x="1030" y="248" font-size="12" letter-spacing="0.3" fill="#000">1600</text>
<text x="1030" y="200" font-size="12" letter-spacing="0.3" fill="#000">1800</text>
<text x="1030" y="151" font-size="12" letter-spacing="0.3" fill="#000">2000</text>
<text x="1030" y="103" font-size="12" letter-spacing="0.3" fill="#000">2200</text>
<text x="1030" y="55" font-size="12" letter-spacing="0.3" fill="#000">2400</text>
<text x="54" y="563" font-size="12" letter-spacing="0.3" text-anchor="middle" fill="#000">2001</text>
<text x="105" y="563" font-size="12" letter-spacing="0.3" text-anchor="middle" fill="#000">2002</text>
<text x="155" y="563" font-size="12" letter-spacing="0.3" text-anchor="middle" fill="#000">2003</text>
<text x="206" y="563" font-size="12" letter-spacing="0.3" text-anchor="middle" fill="#000">2004</text>
<text x="256" y="563" font-size="12" letter-spacing="0.3" text-anchor="middle" fill="#000">2005</text>
<text x="306" y="563" font-size="12" letter-spacing="0.3" text-anchor="middle" fill="#000">2006</text>
<text x="356" y="563" font-size="12" letter-spacing="0.3" text-anchor="middle" fill="#000">2007</text>
<text x="408" y="563" font-size="12" letter-spacing="0.3" text-anchor="middle" fill="#000">2008</text>
<text x="458" y="563" font-size="12" letter-spacing="0.3" text-anchor="middle" fill="#000">2009</text>
<text x="508" y="563" font-size="12" letter-spacing="0.3" text-anchor="middle" fill="#000">2010</text>
<text x="558" y="563" font-size="12" letter-spacing="0.3" text-anchor="middle" fill="#000">2011</text>
<text x="609" y="563" font-size="12" letter-spacing="0.3" text-anchor="middle" fill="#000">2012</text>
<text x="660" y="563" font-size="12" letter-spacing="0.3" text-anchor="middle" fill="#000">2013</text>
<text x="710" y="563" font-size="12" letter-spacing="0.3" text-anchor="middle" fill="#000">2014</text>
<text x="760" y="563" font-size="12" letter-spacing="0.3" text-anchor="middle" fill="#000">2015</text>
<text x="811" y="563" font-size="12" letter-spacing="0.3" text-anchor="middle" fill="#000">2016</text>
<text x="861" y="563" font-size="12" letter-spacing="0.3" text-anchor="middle" fill="#000">2017</text>
<text x="911" y="563" font-size="12" letter-spacing="0.3" text-anchor="middle" fill="#000">2018</text>
<text x="962" y="563" font-size="12" letter-spacing="0.3" text-anchor="middle" fill="#000">2019</text>
<text x="0.5" y="590" font-size="15" fill="#0000f0">www.fullertreacymoney.com</text>
<text x="1074.6" y="590" font-size="12" letter-spacing="0.2" text-anchor="end" fill="#8a8a8a">This website is © 2008-2020 Fuller Treacy Money plc. All rights reserved</text>
</g></svg></body></html>
